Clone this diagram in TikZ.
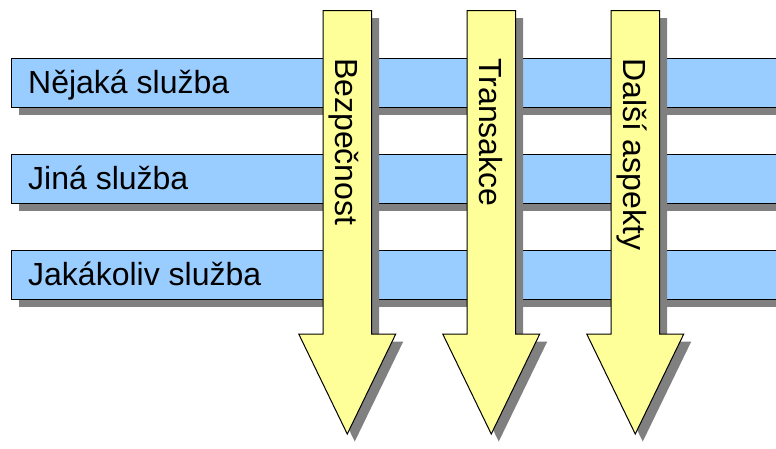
\documentclass[tikz,border=0pt]{standalone}
\usepackage{fontspec}
\setmainfont{Liberation Sans}
\definecolor{svcblue}{HTML}{99CCFF}
\definecolor{aspyellow}{HTML}{FFFF99}
\definecolor{shadowgray}{HTML}{808080}

\begin{document}
\begin{tikzpicture}[x=1pt,y=-1pt,
  bar/.style={fill=svcblue,draw=black,line width=1pt},
  aspect/.style={fill=aspyellow,draw=black,line width=1pt,line join=miter},
  shade/.style={fill=shadowgray,shift={(7.5,7.5)}},
  svclabel/.style={inner sep=0pt,anchor=base west,font=\fontsize{32}{38}\selectfont},
  asplabel/.style={inner sep=0pt,anchor=base west,rotate=-90,font=\fontsize{32}{38}\selectfont},
]
\useasboundingbox (0,0) rectangle (776,448);
\clip (0,0) rectangle (776,448);
% services
\foreach \y/\name/\txt in {58/svc1/Nějaká služba,154/svc2/Jiná služba,250/svc3/Jakákoliv služba} {
  \fill[shade] (11,\y) rectangle (800,{\y+49});
  \draw[bar] (11,\y) rectangle (800,{\y+49});
  \node[svclabel] (\name) at (28,{\y+35.5}) {\txt};
}
% aspects
\foreach \x/\name/\txt in {347.25/asp1/Bezpečnost,491.25/asp2/Transakce,635.25/asp3/Další aspekty} {
  \fill[shade] ({\x-24.25},10.5) -- ({\x+24.25},10.5) -- ({\x+24.25},334) -- ({\x+48.5},334)
    -- (\x,434) -- ({\x-48.5},334) -- ({\x-24.25},334) -- cycle;
  \draw[aspect] ({\x-24.25},10.5) -- ({\x+24.25},10.5) -- ({\x+24.25},334) -- ({\x+48.5},334)
    -- (\x,434) -- ({\x-48.5},334) -- ({\x-24.25},334) -- cycle;
  \node[asplabel] (\name) at ({\x-11.5},58) {\txt};
}
\end{tikzpicture}
\end{document}
